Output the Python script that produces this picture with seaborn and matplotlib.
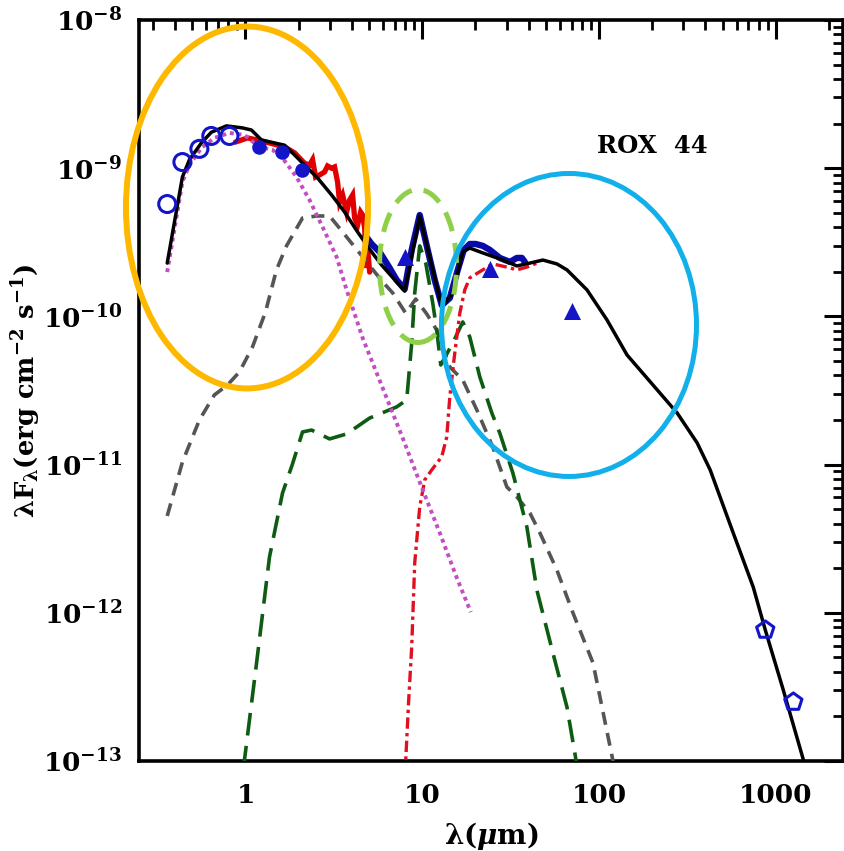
import math
import matplotlib
matplotlib.use("Agg")
import matplotlib.pyplot as plt
from matplotlib.patches import Ellipse
from matplotlib.ticker import FixedLocator, LogLocator, FuncFormatter, NullFormatter
import seaborn as sns

# ---------------- photometry ----------------
opt_wave = [0.361, 0.440, 0.549, 0.641, 0.812]            # UBVRI
opt_flux = [5.73e-10, 1.10e-9, 1.35e-9, 1.65e-9, 1.65e-9]
nir_wave = [1.20, 1.62, 2.10]                              # JHK
nir_flux = [1.39e-9, 1.29e-9, 9.72e-10]
ir_wave = [7.96, 24.1, 70.3]                               # IRAC / MIPS
ir_flux = [2.52e-10, 2.09e-10, 1.09e-10]
mm_wave = [872.0, 1257.0]                                  # sub-mm / mm
mm_flux = [7.66e-13, 2.50e-13]

# ---------------- spectra ----------------
spex_wave = [0.878, 1.026, 1.170, 1.368, 1.663, 1.895, 2.159, 2.305, 2.397, 2.493,
             2.626, 2.803, 2.915, 3.071, 3.193, 3.321, 3.408, 3.545, 3.735, 3.884,
             4.039, 4.146, 4.312, 4.484, 4.602, 4.724, 4.849, 4.912, 5.042]
spex_flux = [1.50e-9, 1.60e-9, 1.55e-9, 1.48e-9, 1.39e-9, 1.27e-9, 1.08e-9, 1.05e-9, 1.14e-9, 8.72e-10,
             9.00e-10, 9.43e-10, 1.035e-9, 1.00e-9, 1.02e-9, 8.07e-10, 5.91e-10, 6.60e-10, 5.06e-10, 6.10e-10,
             6.60e-10, 4.61e-10, 4.14e-10, 5.06e-10, 4.83e-10, 3.95e-10, 2.12e-10, 2.89e-10, 1.99e-10]

irs_wave = [4.786, 5.175, 5.743, 6.545, 7.170, 7.959, 8.721, 9.68, 10.74, 11.77, 12.90,
            14.32, 15.89, 17.18, 18.58, 20.10, 22.02, 24.12, 27.48, 31.33, 34.31, 36.62, 38.08]
irs_flux = [3.49e-10, 3.08e-10, 2.72e-10, 2.12e-10, 1.76e-10, 1.53e-10, 2.81e-10, 4.83e-10, 2.81e-10,
            1.76e-10, 1.19e-10, 1.33e-10, 2.06e-10, 2.81e-10, 3.08e-10, 3.08e-10, 2.99e-10, 2.81e-10,
            2.48e-10, 2.33e-10, 2.48e-10, 2.48e-10, 2.33e-10]

# ---------------- model components ----------------
total_wave = [0.361, 0.440, 0.482, 0.563, 0.642, 0.781, 0.962, 1.081, 1.232, 1.460, 1.663,
              1.822, 2.159, 2.558, 3.071, 3.638, 4.312, 5.175, 5.894, 7.96, 9.68, 11.03,
              12.90, 14.89, 16.96, 18.58, 22.02, 28.58, 34.31, 40.66, 48.16, 57.81, 65.88,
              85.51, 111.0, 144.1, 202.2, 276.7, 359.2, 425.6, 574.3, 745.7, 872.2, 1103.0,
              1432.0, 1567.0]
total_flux = [2.29e-10, 8.72e-10, 1.14e-9, 1.48e-9, 1.75e-9, 1.93e-9, 1.87e-9, 1.81e-9, 1.55e-9,
              1.48e-9, 1.43e-9, 1.29e-9, 1.05e-9, 8.59e-10, 6.60e-10, 5.06e-10, 3.71e-10, 2.72e-10,
              2.22e-10, 1.48e-10, 4.76e-10, 2.52e-10, 1.16e-10, 1.44e-10, 2.72e-10, 2.89e-10,
              2.68e-10, 2.40e-10, 2.19e-10, 2.29e-10, 2.40e-10, 2.26e-10, 2.06e-10, 1.51e-10,
              9.46e-11, 5.49e-11, 3.44e-11, 2.23e-11, 1.40e-11, 9.20e-12, 3.46e-12, 1.49e-12,
              7.66e-13, 3.01e-13, 1.02e-13, 6.4e-14]

star_wave = [0.361, 0.440, 0.482, 0.563, 0.667, 0.812, 0.987, 1.200, 1.422, 1.621, 1.945,
             2.305, 2.731, 3.278, 3.735, 4.602, 5.972, 7.754, 10.07, 12.57, 15.69, 18.83]
star_flux = [1.99e-10, 8.07e-10, 1.05e-9, 1.37e-9, 1.60e-9, 1.73e-9, 1.675e-9, 1.39e-9, 1.33e-9,
             1.17e-9, 8.72e-10, 6.10e-10, 4.01e-10, 2.52e-10, 1.51e-10, 7.15e-11, 3.29e-11,
             1.51e-11, 6.74e-12, 3.46e-12, 1.72e-12, 1.01e-12]

inner_wave = [0.361, 0.440, 0.549, 0.667, 0.791, 0.925, 1.096, 1.298, 1.498, 1.707, 2.103,
              2.526, 2.992, 3.545, 4.602, 5.972, 6.806, 8.064, 9.188, 10.60, 12.08, 14.32,
              16.96, 20.36, 25.08, 30.12, 34.31, 40.66, 46.32, 57.81, 71.24, 92.48, 120.0, 124.8]
inner_flux = [4.50e-12, 1.04e-11, 2.00e-11, 2.95e-11, 3.44e-11, 4.22e-11, 6.22e-11, 1.07e-10,
              2.06e-10, 2.99e-10, 4.61e-10, 4.76e-10, 4.76e-10, 3.71e-10, 2.52e-10, 1.71e-10,
              1.44e-10, 1.05e-10, 1.31e-10, 1.04e-10, 8.09e-11, 4.56e-11, 3.72e-11, 2.34e-11,
              1.31e-11, 7.06e-12, 6.05e-12, 4.71e-12, 3.46e-12, 1.94e-12, 9.98e-13, 4.59e-13,
              1.00e-13, 8.0e-14]

thin_wave = [0.974, 1.154, 1.368, 1.621, 1.846, 2.103, 2.366, 2.992, 3.735, 5.042, 7.170, 8.170,
             8.721, 9.070, 9.68, 10.47, 11.47, 12.08, 12.73, 14.89, 16.96, 18.58, 21.18, 24.76,
             27.48, 32.56, 39.09, 44.54, 54.88, 65.88, 74.08, 76.0]
thin_flux = [8.9e-14, 4.51e-13, 2.38e-12, 6.43e-12, 1.01e-11, 1.66e-11, 1.71e-11, 1.49e-11,
             1.61e-11, 2.06e-11, 2.45e-11, 2.73e-11, 6.62e-11, 1.44e-10, 2.99e-10, 2.29e-10,
             1.23e-10, 8.09e-11, 4.70e-11, 6.62e-11, 9.17e-11, 7.26e-11, 3.90e-11, 2.23e-11,
             1.63e-11, 8.78e-12, 3.79e-12, 1.42e-12, 5.35e-13, 2.31e-13, 1.02e-13, 8.0e-14]

wall_wave = [8.0, 8.064, 8.386, 8.721, 9.070, 9.68, 10.33, 11.32, 12.90, 13.77, 14.32, 15.28,
             16.31, 17.41, 18.58, 22.02, 25.08, 30.12, 34.31, 39.09, 46.32]
wall_flux = [8.0e-14, 1.00e-13, 2.58e-13, 5.88e-13, 2.17e-12, 5.17e-12, 7.87e-12, 9.20e-12,
             1.13e-11, 1.54e-11, 2.86e-11, 5.66e-11, 1.05e-10, 1.51e-10, 1.82e-10, 2.06e-10,
             2.26e-10, 2.15e-10, 2.06e-10, 2.15e-10, 2.33e-10]

# ---------------- styling ----------------
sns.set_style("white")
plt.rcParams["font.family"] = ["DejaVu Serif"]
plt.rcParams["font.weight"] = "bold"
plt.rcParams["mathtext.fontset"] = "dejavuserif"
plt.rcParams["text.color"] = "black"
plt.rcParams["axes.labelcolor"] = "black"

BLUE = "#1414c8"

fig = plt.figure(figsize=(8.44, 8.51), dpi=100)
ax = fig.add_axes([0.1647, 0.1058, 0.8341, 0.8707])
ax.set_xscale("log")
ax.set_yscale("log")


def curve(x, y, **kw):
    sns.lineplot(x=x, y=y, ax=ax, estimator=None, sort=False, legend=False, **kw)


# spectra underneath the model
curve(spex_wave, spex_flux, color="#e00000", lw=3.8, zorder=2, solid_joinstyle="miter")
curve(irs_wave, irs_flux, color="#0a0aa8", lw=4.6, zorder=2)

# model components
curve(inner_wave, inner_flux, color="#555555", lw=2.6, linestyle=(0, (3.6, 2.3)), zorder=3)
curve(thin_wave, thin_flux, color="#0d5c12", lw=2.6, linestyle=(0, (6.3, 2.9)), zorder=3)
curve(wall_wave, wall_flux, color="#e01020", lw=2.4, linestyle=(0, (3.4, 1.3, 1.0, 1.3)), zorder=3)
curve(star_wave, star_flux, color="#c24fc2", lw=2.8, linestyle=(0, (1.0, 1.0)), zorder=3)
curve(total_wave, total_flux, color="black", lw=2.5, zorder=4)

# photometry
sns.scatterplot(x=opt_wave, y=opt_flux, ax=ax, marker="o", s=150, color=BLUE,
                linewidth=2.2, zorder=6, legend=False)
ax.collections[-1].set_facecolor("none")
ax.collections[-1].set_edgecolor(BLUE)
sns.scatterplot(x=nir_wave, y=nir_flux, ax=ax, marker="o", s=110, color=BLUE,
                linewidth=0, zorder=6, legend=False)
sns.scatterplot(x=ir_wave, y=ir_flux, ax=ax, marker="^", s=150, color=BLUE,
                linewidth=0, zorder=6, legend=False)
sns.scatterplot(x=mm_wave, y=mm_flux, ax=ax, marker="p", s=170, color=BLUE,
                linewidth=2.2, zorder=6, legend=False)
ax.collections[-1].set_facecolor("none")
ax.collections[-1].set_edgecolor(BLUE)

# axes ranges and ticks
ax.set_xlim(0.25, 2400)
ax.set_ylim(1e-13, 1e-8)

ax.xaxis.set_major_locator(FixedLocator([1, 10, 100, 1000]))
ax.xaxis.set_minor_locator(LogLocator(base=10, subs=range(2, 10), numticks=20))
ax.xaxis.set_major_formatter(FuncFormatter(lambda v, p: f"{v:g}"))
ax.xaxis.set_minor_formatter(NullFormatter())
ax.yaxis.set_major_locator(FixedLocator([1e-13, 1e-12, 1e-11, 1e-10, 1e-9, 1e-8]))
ax.yaxis.set_minor_locator(LogLocator(base=10, subs=range(2, 10), numticks=20))
ax.yaxis.set_major_formatter(FuncFormatter(
    lambda v, p: r"$\mathbf{10^{%d}}$" % round(math.log10(v))))
ax.yaxis.set_minor_formatter(NullFormatter())

ax.tick_params(which="both", direction="in", top=True, right=True, colors="black",
               labelsize=19)
ax.tick_params(which="major", length=14, width=2.2)
ax.tick_params(which="minor", length=7, width=2.0)
ax.tick_params(axis="x", which="major", pad=16)
ax.tick_params(axis="y", which="major", pad=12)
for lab in ax.get_xticklabels() + ax.get_yticklabels():
    lab.set_fontweight("bold")
for sp in ax.spines.values():
    sp.set_linewidth(2.6)
    sp.set_color("black")

ax.set_xlabel(r"$\mathbf{\lambda(}\mu\mathbf{m)}$", fontsize=20)
ax.xaxis.set_label_coords(0.5, -0.079)
ax.set_ylabel(r"$\mathbf{\lambda F_{\lambda}(erg\ cm^{-2}\ s^{-1})}$", fontsize=18.5)
ax.yaxis.set_label_coords(-0.136, 0.5)

ax.text(0.7287, 0.830, "ROX  44", transform=ax.transAxes, ha="center", va="center",
        fontsize=17.5, fontweight="bold", family="DejaVu Serif", color="black")

# highlighted regions
ax.add_patch(Ellipse((0.1534, 0.7470), 0.3438, 0.4885, transform=ax.transAxes,
                     fill=False, edgecolor="#ffb800", lw=4.3, zorder=10, clip_on=False))
ax.add_patch(Ellipse((0.3963, 0.6680), 0.1094, 0.2065, transform=ax.transAxes,
                     fill=False, edgecolor="#8fcf4a", lw=3.6, linestyle=(0, (4.0, 2.4)),
                     zorder=10, clip_on=False))
ax.add_patch(Ellipse((0.6108, 0.5884), 0.3622, 0.4089, transform=ax.transAxes,
                     fill=False, edgecolor="#12b0ea", lw=3.6, zorder=10, clip_on=False))

fig.savefig("out.png", dpi=100)
